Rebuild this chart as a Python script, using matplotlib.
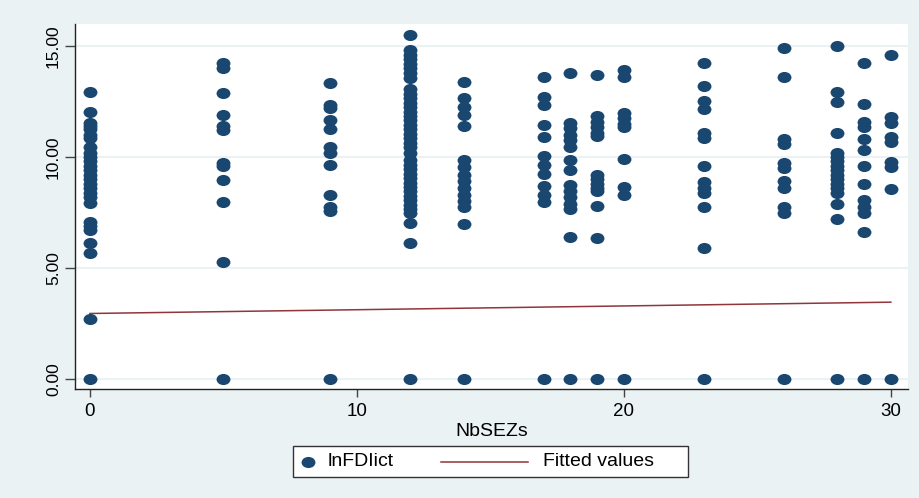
import matplotlib
matplotlib.use('Agg')
import matplotlib.pyplot as plt
import numpy as np
from matplotlib.path import Path
from matplotlib.transforms import Affine2D
from matplotlib.lines import Line2D
from matplotlib.patches import Rectangle

plt.rcParams['font.family'] = ['Liberation Sans', 'DejaVu Sans']

# lnFDIict values observed at each NbSEZs level
y_nb0 = [12.94, 12.04, 11.55, 11.4, 11.25, 11.0, 10.85, 10.46, 10.2, 10.0, 9.8, 9.6, 9.4,
         9.2, 9.0, 8.8, 8.6, 8.4, 8.2, 7.95, 7.06, 6.9, 6.71, 6.11, 5.66, 2.70, 0.0]
y_nb5 = [14.22, 14.0, 12.9, 11.89, 11.4, 11.22, 9.74, 9.6, 8.96, 7.99, 5.26, 0.0]
y_nb9 = [13.35, 12.34, 12.19, 11.67, 11.25, 10.46, 10.17, 9.64, 8.29, 7.76, 7.58, 0.0]
y_nb12 = [15.5, 14.82, 14.6, 14.4, 14.2, 14.0, 13.8, 13.55, 13.05, 12.85, 12.65, 12.45,
          12.25, 12.05, 11.85, 11.65, 11.45, 11.25, 11.05, 10.85, 10.65, 10.45, 10.2,
          9.86, 9.65, 9.45, 9.25, 9.05, 8.85, 8.65, 8.45, 8.25, 8.05, 7.85, 7.65, 7.48,
          7.01, 6.11, 0.0]
y_nb14 = [13.39, 12.64, 12.24, 11.89, 11.4, 9.86, 9.55, 9.2, 8.9, 8.6, 8.3, 8.0, 7.75,
          6.98, 0.0]
y_nb17 = [13.62, 12.69, 12.34, 11.44, 10.92, 10.05, 9.64, 9.23, 8.69, 8.29, 7.99, 0.0]
y_nb18 = [13.81, 11.55, 11.3, 11.0, 10.75, 10.45, 9.86, 9.41, 8.74, 8.45, 8.2, 7.9, 7.65,
          6.38, 0.0]
y_nb19 = [13.69, 11.85, 11.6, 11.35, 11.1, 10.95, 9.2, 9.0, 8.8, 8.6, 8.45, 7.79, 6.34, 0.0]
y_nb20 = [13.92, 13.59, 12.0, 11.75, 11.5, 11.35, 9.91, 8.66, 8.29, 0.0]
y_nb23 = [14.26, 13.21, 12.54, 12.15, 11.07, 10.84, 9.61, 8.89, 8.59, 8.36, 7.73, 5.9, 0.0]
y_nb26 = [14.93, 13.6, 10.8, 10.59, 9.71, 9.49, 8.92, 8.59, 7.76, 7.49, 0.0]
y_nb28 = [15.01, 12.94, 12.49, 11.07, 10.2, 10.0, 9.8, 9.6, 9.4, 9.2, 9.0, 8.8, 8.6, 8.4,
          7.87, 7.19, 0.0]
y_nb29 = [14.22, 12.37, 11.59, 11.37, 10.81, 10.32, 9.61, 8.77, 8.06, 7.76, 7.49, 6.61, 0.0]
y_nb30 = [14.6, 11.82, 11.52, 10.92, 10.66, 9.79, 9.56, 8.56, 0.0]

nbsez_levels = [0, 5, 9, 12, 14, 17, 18, 19, 20, 23, 26, 28, 29, 30]
columns = [y_nb0, y_nb5, y_nb9, y_nb12, y_nb14, y_nb17, y_nb18, y_nb19, y_nb20,
           y_nb23, y_nb26, y_nb28, y_nb29, y_nb30]

# fitted line (linear fit read at both ends)
fit_x = [0, 30]
fit_y = [2.95, 3.46]

nbsez = []
lnfdi = []
for lev, col in zip(nbsez_levels, columns):
    nbsez += [lev] * len(col)
    lnfdi += col

navy = '#1a476f'
maroon = '#90353b'
bg = '#eaf2f3'

# slightly flattened dot, like the stretched stata export
ell = Path(Affine2D().scale(1.0, 0.8).transform(Path.unit_circle().vertices),
           Path.unit_circle().codes)

fig = plt.figure(figsize=(9.2, 4.98), dpi=100, facecolor=bg)
ax = fig.add_axes([0.0815, 0.219, 0.9054, 0.733])
ax.set_facecolor('white')

ax.plot(nbsez, lnfdi, linestyle='none', marker=ell, markersize=10,
        color=navy, markeredgewidth=0, zorder=3)
ax.plot(fit_x, fit_y, color=maroon, linewidth=1.1, zorder=2)

ax.set_xlim(-0.56, 30.64)
ax.set_ylim(-0.45, 16.0)
ax.set_xticks([0, 10, 20, 30])
ax.set_yticks([0, 5, 10, 15])
ax.set_yticklabels(['%.2f' % v for v in [0, 5, 10, 15]], rotation=90, va='center')
ax.tick_params(axis='x', labelsize=13.5, length=6, width=1, color='#444444', pad=4)
ax.tick_params(axis='y', labelsize=12.5, length=7, width=1, color='#444444', pad=3)
ax.grid(axis='y', color=bg, linewidth=1.5, zorder=0)
ax.set_axisbelow(True)
for s in ['top', 'right']:
    ax.spines[s].set_visible(False)
for s in ['left', 'bottom']:
    ax.spines[s].set_color('#222222')
    ax.spines[s].set_linewidth(1.0)
ax.set_xlabel('NbSEZs', fontsize=14, labelpad=2)

# legend box drawn below the plot, stata style
fig.patches.append(Rectangle((293 / 920, 1 - 477 / 498), (688 - 293) / 920, 31 / 498,
                             transform=fig.transFigure, facecolor='white',
                             edgecolor='#333333', linewidth=1.0))
ly = 1 - 461.5 / 498
fig.lines.append(Line2D([308 / 920], [ly], transform=fig.transFigure, marker=ell,
                        markersize=10, color=navy, markeredgewidth=0, linestyle='none'))
fig.text(328 / 920, ly, 'lnFDIict', fontsize=14, va='center', ha='left')
fig.lines.append(Line2D([441 / 920, 528 / 920], [ly, ly], transform=fig.transFigure,
                        color=maroon, linewidth=1.1))
fig.text(543 / 920, ly, 'Fitted values', fontsize=14, va='center', ha='left')

plt.savefig('out.png', dpi=100, facecolor=bg)
